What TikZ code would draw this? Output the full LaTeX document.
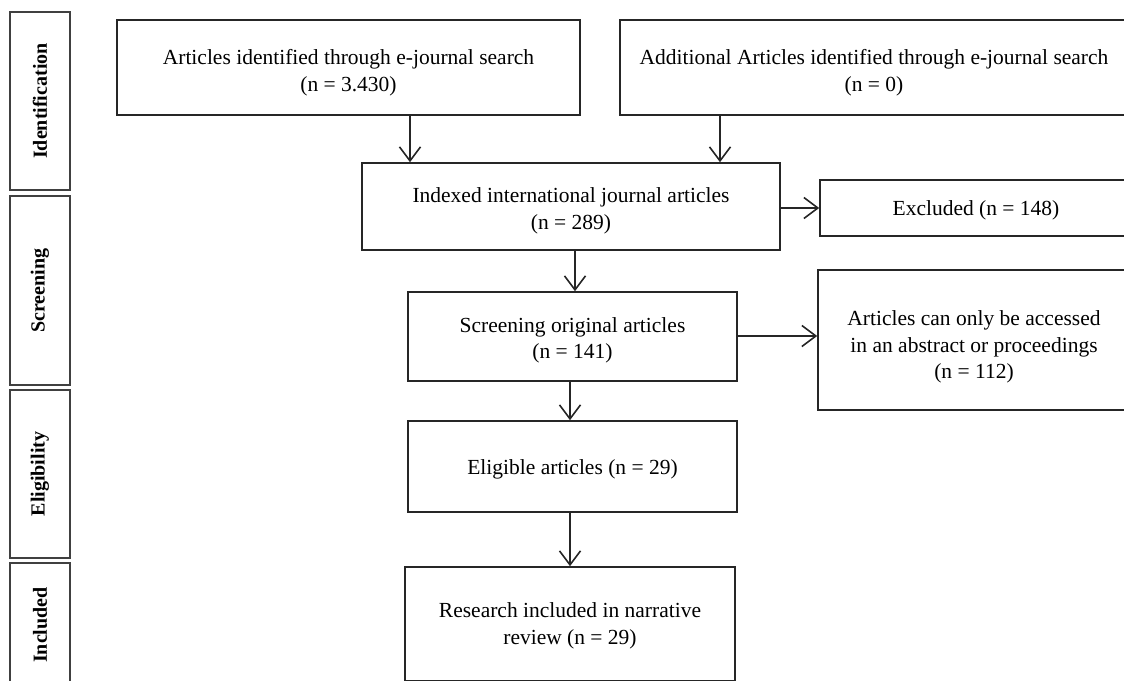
\documentclass[tikz,border=0pt]{standalone}
\usepackage{fontspec}
\setmainfont{Liberation Serif}
\usetikzlibrary{arrows.meta}
\newcommand\lowtxt[2]{\raisebox{-#1}[\dimexpr\height+#1\relax][\dimexpr\depth-#1\relax]{\begin{tabular}{@{}c@{}}#2\end{tabular}}}
\begin{document}
\begin{tikzpicture}[x=1pt,y=-1pt,
  box/.style={draw=black!85,line width=1.6pt,rectangle,inner sep=0pt,
    font=\fontsize{21.5}{26.5}\selectfont},
  side/.style={draw=black!75,line width=2.4pt,rectangle,inner sep=0pt,
    minimum width=60pt},
  sidetext/.style={rotate=90,inner sep=0pt,font=\fontsize{20}{24}\selectfont\bfseries},
  arr/.style={draw=black!85,line width=1.6pt,-{Straight Barb[length=14pt,width=21pt,line width=1.6pt]}}]
\useasboundingbox (0,0) rectangle (1124,680);
\clip (0,0) rectangle (1124,680);
% side labels
\node[side,minimum height=178pt] (s1) at (40,101) {};
\node[sidetext] (t1) at (s1.center) {Identification};
\node[side,minimum height=189pt] (s2) at (40,290.5) {};
\node[sidetext] (t2) at (s2.center) {Screening};
\node[side,minimum height=168pt] (s3) at (40,474) {};
\node[sidetext] (t3) at (s3.center) {Eligibility};
\node[side,minimum height=124pt] (s4) at (40,625) {};
\node[sidetext] (t4) at (s4.center) {Included};
% main boxes
\node[box,minimum width=463pt,minimum height=95pt] (A) at (348.5,67.5) {\lowtxt{2.5pt}{Articles identified through e-journal search\\(n = 3.430)}};
\node[box,minimum width=508pt,minimum height=95pt] (B) at (874,67.5) {\lowtxt{2.5pt}{Additional Articles identified through e-journal search\\(n = 0)}};
\node[box,minimum width=418pt,minimum height=87pt] (C) at (571,206.5) {\lowtxt{2pt}{Indexed international journal articles\\(n = 289)}};
\node[box,minimum width=312pt,minimum height=56pt] (X) at (976,208) {\lowtxt{1pt}{Excluded (n = 148)}};
\node[box,minimum width=329pt,minimum height=89pt] (D) at (572.5,336.5) {\lowtxt{1.75pt}{Screening original articles\\(n = 141)}};
\node[box,minimum width=312pt,minimum height=140pt] (E) at (974,340) {\lowtxt{3.5pt}{Articles can only be accessed\\in an abstract or proceedings\\(n = 112)}};
\node[box,minimum width=329pt,minimum height=91pt] (F) at (572.5,466.5) {\lowtxt{1.5pt}{Eligible articles (n = 29)}};
\node[box,minimum width=330pt,minimum height=114pt] (G) at (570,624) {\lowtxt{0.75pt}{Research included in narrative\\review (n = 29)}};
% connector x positions
\coordinate (xa) at (410,0);
\coordinate (xb) at (720,0);
\coordinate (xc) at (575,0);
\coordinate (xd) at (570,0);
\coordinate (yx) at (0,208);
\coordinate (ye) at (0,336);
\draw[arr] (A.south -| xa) -- (C.north -| xa);
\draw[arr] (B.south -| xb) -- (C.north -| xb);
\draw[arr] (C.east |- yx) -- (X.west |- yx);
\draw[arr] (C.south -| xc) -- (D.north -| xc);
\draw[arr] (D.east |- ye) -- (E.west |- ye);
\draw[arr] (D.south -| xd) -- (F.north -| xd);
\draw[arr] (F.south -| xd) -- (G.north -| xd);
\end{tikzpicture}
\end{document}
